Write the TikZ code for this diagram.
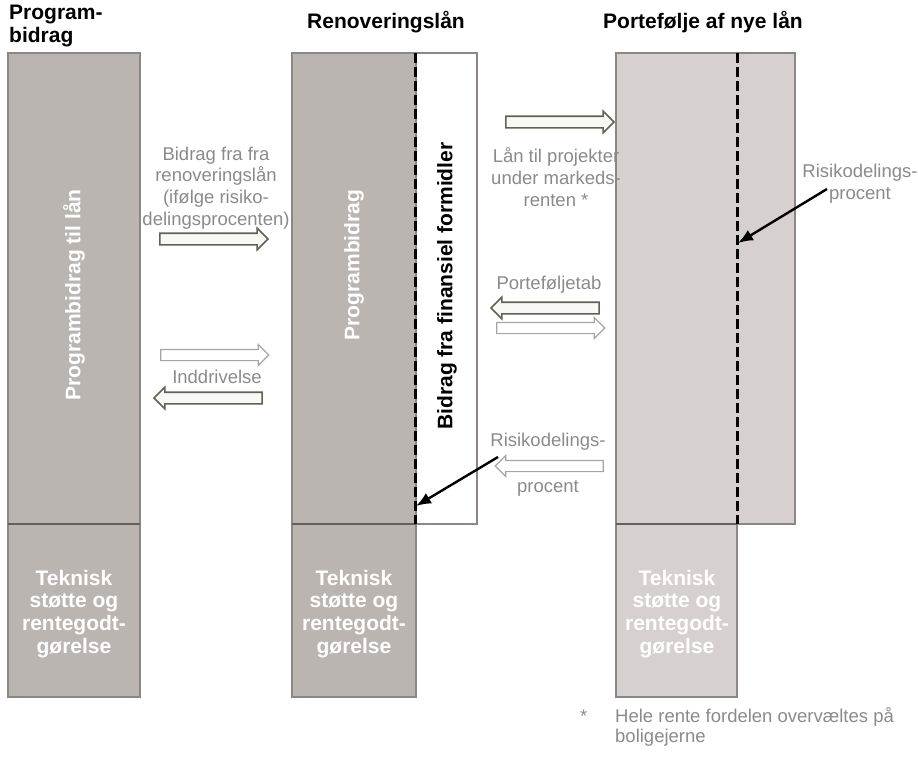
\documentclass[tikz,border=0pt]{standalone}
\usepackage{fontspec}
\setmainfont{Liberation Sans}
\usetikzlibrary{shapes.arrows,arrows.meta}
\definecolor{boxdark}{RGB}{187,181,178}
\definecolor{boxlight}{RGB}{214,209,206}
\definecolor{boxedge}{RGB}{140,134,132}
\definecolor{divline}{RGB}{100,96,95}
\definecolor{labelgray}{RGB}{138,138,138}
\definecolor{arrowdark}{RGB}{95,98,82}
\definecolor{arrowlight}{RGB}{165,165,165}
\definecolor{arrowfill}{RGB}{248,248,244}
\begin{document}
\begin{tikzpicture}[x=1pt,y=-1pt,
  hdr/.style={font=\bfseries\fontsize{21}{24}\selectfont, text=black, inner sep=0pt},
  lbl/.style={font=\fontsize{18.5}{21.7}\selectfont, text=labelgray, align=center, inner sep=0pt},
  vtxt/.style={font=\bfseries\fontsize{21}{24}\selectfont, rotate=90, inner sep=0pt},
  tek/.style={font=\bfseries\fontsize{21}{22.8}\selectfont, text=white, align=center, inner sep=0pt},
  boxd/.style={draw=boxedge, line width=1.2pt, fill=boxdark},
  boxl/.style={draw=boxedge, line width=1.2pt, fill=boxlight},
  boxw/.style={draw=boxedge, line width=1.2pt, fill=white},
  divl/.style={draw=divline, line width=1.5pt},
  dashl/.style={draw=black, line width=3pt, dash pattern=on 10pt off 4pt},
  blockarrow/.style={single arrow, inner xsep=0pt, inner ysep=5pt,
     single arrow head extend=5pt, minimum height=108pt},
  darkarrow/.style={blockarrow, draw=arrowdark, fill=arrowfill, line width=1.6pt},
  lightarrow/.style={blockarrow, draw=arrowlight, fill=white, line width=1.2pt},
  pointleft/.style={shape border rotate=180},
  pointer/.style={draw=black, line width=2.4pt, -{Latex[length=15pt,width=12pt]}}
]
\useasboundingbox (0,0) rectangle (918,769);

% headers
\node[hdr, anchor=base west] (h1a) at (9,19) {Program-};
\node[hdr, anchor=base west] (h1b) at (9,42) {bidrag};
\node[hdr, anchor=base] (h2) at (386,28) {Renoveringslån};
\node[hdr, anchor=base] (h3) at (703,28) {Portefølje af nye lån};

% left column
\path[boxd] (8,53) rectangle (140,697);
\path[divl] (8,524) -- (140,524);
% middle column
\path[boxw] (416,53) rectangle (477,524);
\path[boxd] (292,53) rectangle (416,697);
\path[divl] (292,524) -- (416,524);
\path[dashl] (415,53) -- (415,524);
% right column
\path[boxl] (616,53) rectangle (795,524);
\path[boxl] (616,524) rectangle (737,697);
\path[divl] (616,524) -- (737,524);
\path[dashl] (737,53) -- (737,524);

% vertical texts
\node[vtxt, text=white] (v1) at (74,295) {Programbidrag til lån};
\node[vtxt, text=white] (v2) at (354,265) {Programbidrag};
\node[vtxt, text=black] (v3) at (447,286) {Bidrag fra finansiel formidler};

% lower box texts
\node[tek] (t1) at (74,614) {Teknisk\\støtte og\\rentegodt-\\gørelse};
\node[tek] (t2) at (354,614) {Teknisk\\støtte og\\rentegodt-\\gørelse};
\node[tek] (t3) at (677,614) {Teknisk\\støtte og\\rentegodt-\\gørelse};

% left arrows and labels
\node[lbl] (l1) at (216,188) {Bidrag fra fra\\renoveringslån\\(ifølge risiko-\\delingsprocenten)};
\node[darkarrow] (a1) at (211,239) {};
\node[lightarrow] (a2) at (212,355) {};
\node[lbl] (l2) at (217,377) {Inddrivelse};
\node[darkarrow, pointleft] (a3) at (211,398) {};

% right arrows and labels
\node[darkarrow] (a4) at (557,122) {};
\node[lbl] (l3) at (556,177) {Lån til projekter\\under markeds-\\renten *};
\node[lbl] (l4) at (549,285) {Porteføljetab};
\node[darkarrow, pointleft] (a5) at (548,308) {};
\node[lightarrow] (a6) at (548,328) {};
\node[lbl] (l5) at (548,442) {Risikodelings-};
\node[lightarrow, pointleft] (a7) at (552,466) {};
\node[lbl] (l6) at (548,488) {procent};

\node[lbl] (l7) at (860,184) {Risikodelings-\\procent};

% pointer arrows
\coordinate (p1s) at (498,457);
\coordinate (p1e) at (416,506);
\coordinate (p2s) at (827,189);
\coordinate (p2e) at (738,243);
\path[pointer] (p1s) -- (p1e);
\path[pointer] (p2s) -- (p2e);

% footnote
\node[lbl, anchor=base west] (fs) at (580,722) {*};
\node[lbl, anchor=base west, align=left, font=\fontsize{18.5}{20}\selectfont] (fn) at (615,742) {Hele rente fordelen overvæltes på\\boligejerne};
\end{tikzpicture}
\end{document}
